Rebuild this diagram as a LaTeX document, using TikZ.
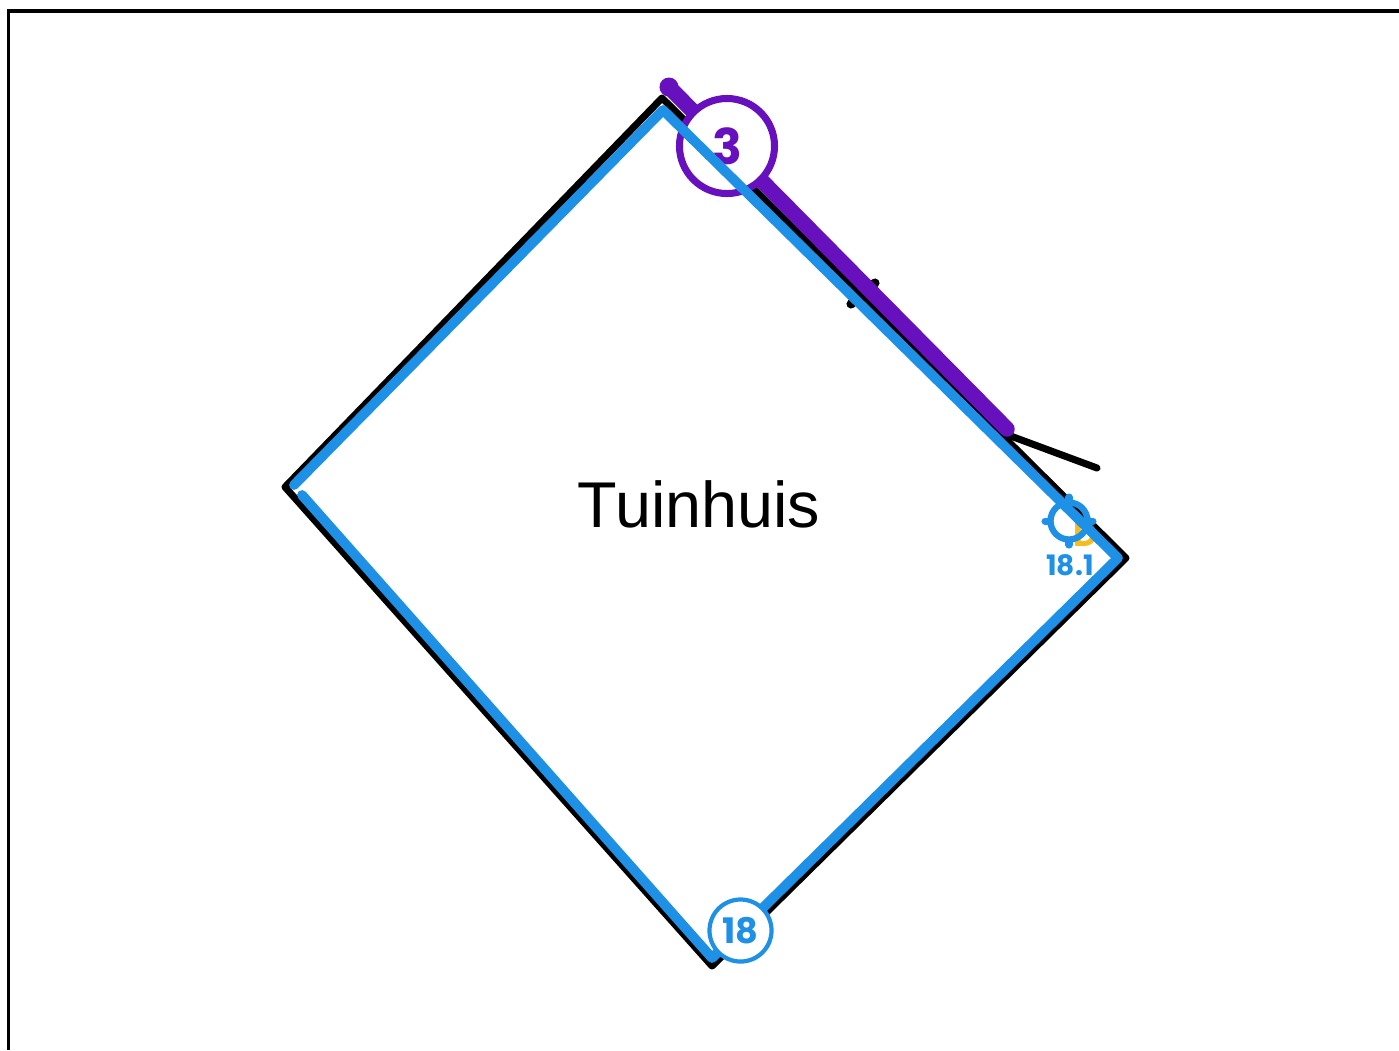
\documentclass[tikz,border=0pt]{standalone}
\usetikzlibrary{calc}
\usepackage{fontspec}
\setmainfont{Liberation Sans}
\newfontfamily\labelfont{Poppins}
\definecolor{wallblue}{HTML}{1E90E6}
\definecolor{wallpurple}{HTML}{6610BE}
\definecolor{markamber}{HTML}{F5BC1E}
\tikzset{
  outline/.style={line width=2pt, line join=round, line cap=round},
  bluewall/.style={draw=wallblue, line width=2.8pt, line join=round, line cap=round},
  purplewall/.style={draw=wallpurple, line width=4.4pt, line cap=round},
  badge/.style={circle, draw, fill=white, inner sep=0pt, font=\labelfont\bfseries}
}
\begin{document}
\begin{tikzpicture}[x=0.01cm,y=-0.01cm]
        \useasboundingbox (0,0) rectangle (1399,1050);

        % Frame, open at the right and at the bottom
        \coordinate (framea) at (8.5,1050);
        \coordinate (frameb) at (8.5,11);
        \coordinate (framec) at (1399,11);
        \draw[line width=0.9pt] (framea) -- (frameb) -- (framec);

        % Corners of the house
        \coordinate (top) at (662,98);
        \coordinate (right) at (1126,558);
        \coordinate (bottom) at (712,966);
        \coordinate (left) at (285,487);

        % Small black lines
        \coordinate (ticka) at (851,304);
        \coordinate (tickb) at (875,283);
        \coordinate (linea) at (1008,435);
        \coordinate (lineb) at (1097,468);
        \draw[outline, line width=2.6pt] (ticka) -- (tickb);
        \draw[outline] (linea) -- (lineb);

        % Black walls
        \draw[outline] (top) -- (right) -- (bottom) -- (left) -- cycle;

        % Purple wall
        \coordinate (purplea) at (669,87);
        \coordinate (purpleb) at (1007,429);
        \fill[wallpurple] (purplea) circle (0.095cm);
        \draw[purplewall] (purplea) -- (purpleb);
        \node[badge, draw=wallpurple, line width=2pt, text=wallpurple, minimum size=0.95cm, font=\labelfont\bfseries\fontsize{14}{14}\selectfont] (three) at (727,146) {3};

        % Amber mark behind the target
        \node[text=markamber, font=\labelfont\bfseries\fontsize{9.5}{9.5}\selectfont, inner sep=0pt] (mark) at (1086,535) {D};

        % Blue walls
        \coordinate (bluea) at (302,495);
        \coordinate (blueb) at (712,958);
        \coordinate (bluec) at (1118,558);
        \coordinate (blued) at (663,110);
        \coordinate (bluee) at (294,485);
        \draw[bluewall] (bluea) -- (blueb) -- (bluec) -- (blued) -- (bluee);

        \node[badge, draw=wallblue, line width=1.2pt, text=wallblue, minimum size=0.62cm, font=\labelfont\bfseries\fontsize{10}{10}\selectfont] (eighteen) at (740.5,930.5) {18};

        % Target with its ticks
        \node[circle, draw=wallblue, line width=1.8pt, minimum size=0.37cm, inner sep=0pt] (target) at (1069,521) {};
        \foreach \ang in {0,90,180,270}
          \draw[draw=wallblue, line width=2pt, line cap=round] ($(target)+(\ang:20)$) -- ($(target)+(\ang:24)$);
        \node[text=wallblue, font=\labelfont\bfseries\fontsize{8}{8}\selectfont, inner sep=0pt] (targetlabel) at (1070,565) {18.1};

        % Name of the house
        \node[font=\fontsize{18.4}{18.4}\selectfont, inner sep=0pt] (name) at (699,504) {Tuinhuis};
\end{tikzpicture}
\end{document}
